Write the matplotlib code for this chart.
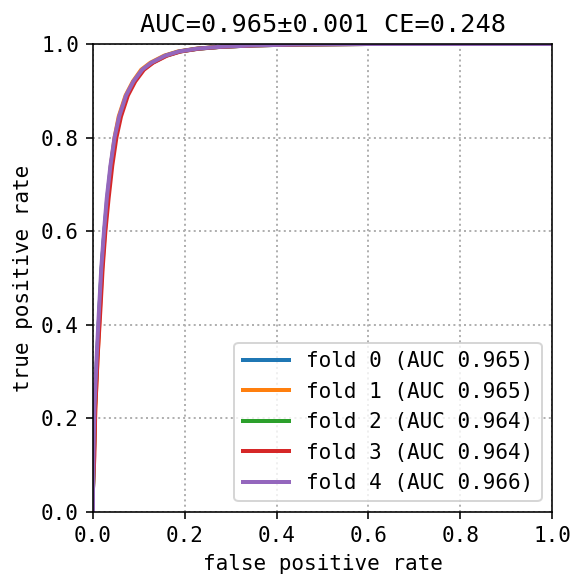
import matplotlib
matplotlib.use("Agg")
import matplotlib.pyplot as plt

plt.rcParams['font.family'] = ['DejaVu Sans Mono']
plt.rcParams['font.size'] = 10.5

fold_aucs = [0.965, 0.965, 0.964, 0.964, 0.966]
colors = ["#1f77b4", "#ff7f0e", "#2ca02c", "#d62728", "#9467bd"]

fpr0 = [0, 0.0, 0.002, 0.004, 0.009, 0.014, 0.019, 0.025, 0.031, 0.039, 0.048, 0.058, 0.073, 0.089, 0.108, 0.128, 0.158, 0.188, 0.228, 0.278, 0.35, 0.45, 0.6, 0.8, 1.0]
tpr0 = [0, 0.05, 0.12, 0.22, 0.33, 0.43, 0.52, 0.60, 0.67, 0.74, 0.80, 0.845, 0.89, 0.92, 0.945, 0.96, 0.975, 0.984, 0.99, 0.994, 0.997, 0.999, 1.0, 1.0, 1.0]

fpr1 = [0, 0.0, 0.002, 0.005, 0.010, 0.015, 0.020, 0.026, 0.032, 0.039, 0.047, 0.056, 0.071, 0.087, 0.105, 0.125, 0.155, 0.185, 0.225, 0.275, 0.345, 0.445, 0.6, 0.8, 1.0]
tpr1 = [0, 0.05, 0.12, 0.22, 0.33, 0.43, 0.52, 0.60, 0.67, 0.74, 0.80, 0.845, 0.89, 0.92, 0.945, 0.96, 0.975, 0.984, 0.99, 0.994, 0.997, 0.999, 1.0, 1.0, 1.0]

fpr2 = [0, 0.0, 0.002, 0.004, 0.009, 0.014, 0.019, 0.025, 0.032, 0.040, 0.049, 0.059, 0.074, 0.090, 0.109, 0.129, 0.159, 0.189, 0.229, 0.279, 0.35, 0.45, 0.6, 0.8, 1.0]
tpr2 = [0, 0.05, 0.12, 0.22, 0.33, 0.43, 0.52, 0.60, 0.67, 0.74, 0.80, 0.845, 0.89, 0.92, 0.945, 0.96, 0.975, 0.984, 0.99, 0.994, 0.997, 0.999, 1.0, 1.0, 1.0]

fpr3 = [0, 0.0, 0.003, 0.005, 0.010, 0.016, 0.021, 0.027, 0.034, 0.042, 0.051, 0.061, 0.076, 0.092, 0.111, 0.131, 0.161, 0.191, 0.231, 0.281, 0.352, 0.452, 0.6, 0.8, 1.0]
tpr3 = [0, 0.05, 0.12, 0.22, 0.33, 0.43, 0.52, 0.60, 0.67, 0.74, 0.80, 0.845, 0.89, 0.92, 0.945, 0.96, 0.975, 0.984, 0.99, 0.994, 0.997, 0.999, 1.0, 1.0, 1.0]

fpr4 = [0, 0.0, 0.001, 0.003, 0.008, 0.013, 0.018, 0.024, 0.030, 0.038, 0.047, 0.057, 0.072, 0.088, 0.107, 0.127, 0.157, 0.187, 0.227, 0.277, 0.35, 0.45, 0.6, 0.8, 1.0]
tpr4 = [0, 0.05, 0.12, 0.22, 0.33, 0.43, 0.52, 0.60, 0.67, 0.74, 0.80, 0.845, 0.89, 0.92, 0.945, 0.96, 0.975, 0.984, 0.99, 0.994, 0.997, 0.999, 1.0, 1.0, 1.0]

fprs = [fpr0, fpr1, fpr2, fpr3, fpr4]
tprs = [tpr0, tpr1, tpr2, tpr3, tpr4]

fig = plt.figure(figsize=(574 / 144, 578 / 144), dpi=144)
ax = fig.add_axes([0.162, 0.1142, 0.7997, 0.8097])

for i, (f, t) in enumerate(zip(fprs, tprs)):
    ax.plot(f, t, color=colors[i], lw=2, label=f"fold {i} (AUC {fold_aucs[i]:.3f})")

ax.set_xlim(0, 1)
ax.set_ylim(0, 1)
ax.grid(True, linestyle=':', color='#b0b0b0', linewidth=1)
ax.set_xlabel("false positive rate")
ax.set_ylabel("true positive rate")
ax.set_title("AUC=0.965±0.001 CE=0.248")
ax.legend(loc="lower right", handlelength=2.2)

fig.savefig("out.png", dpi=144)
